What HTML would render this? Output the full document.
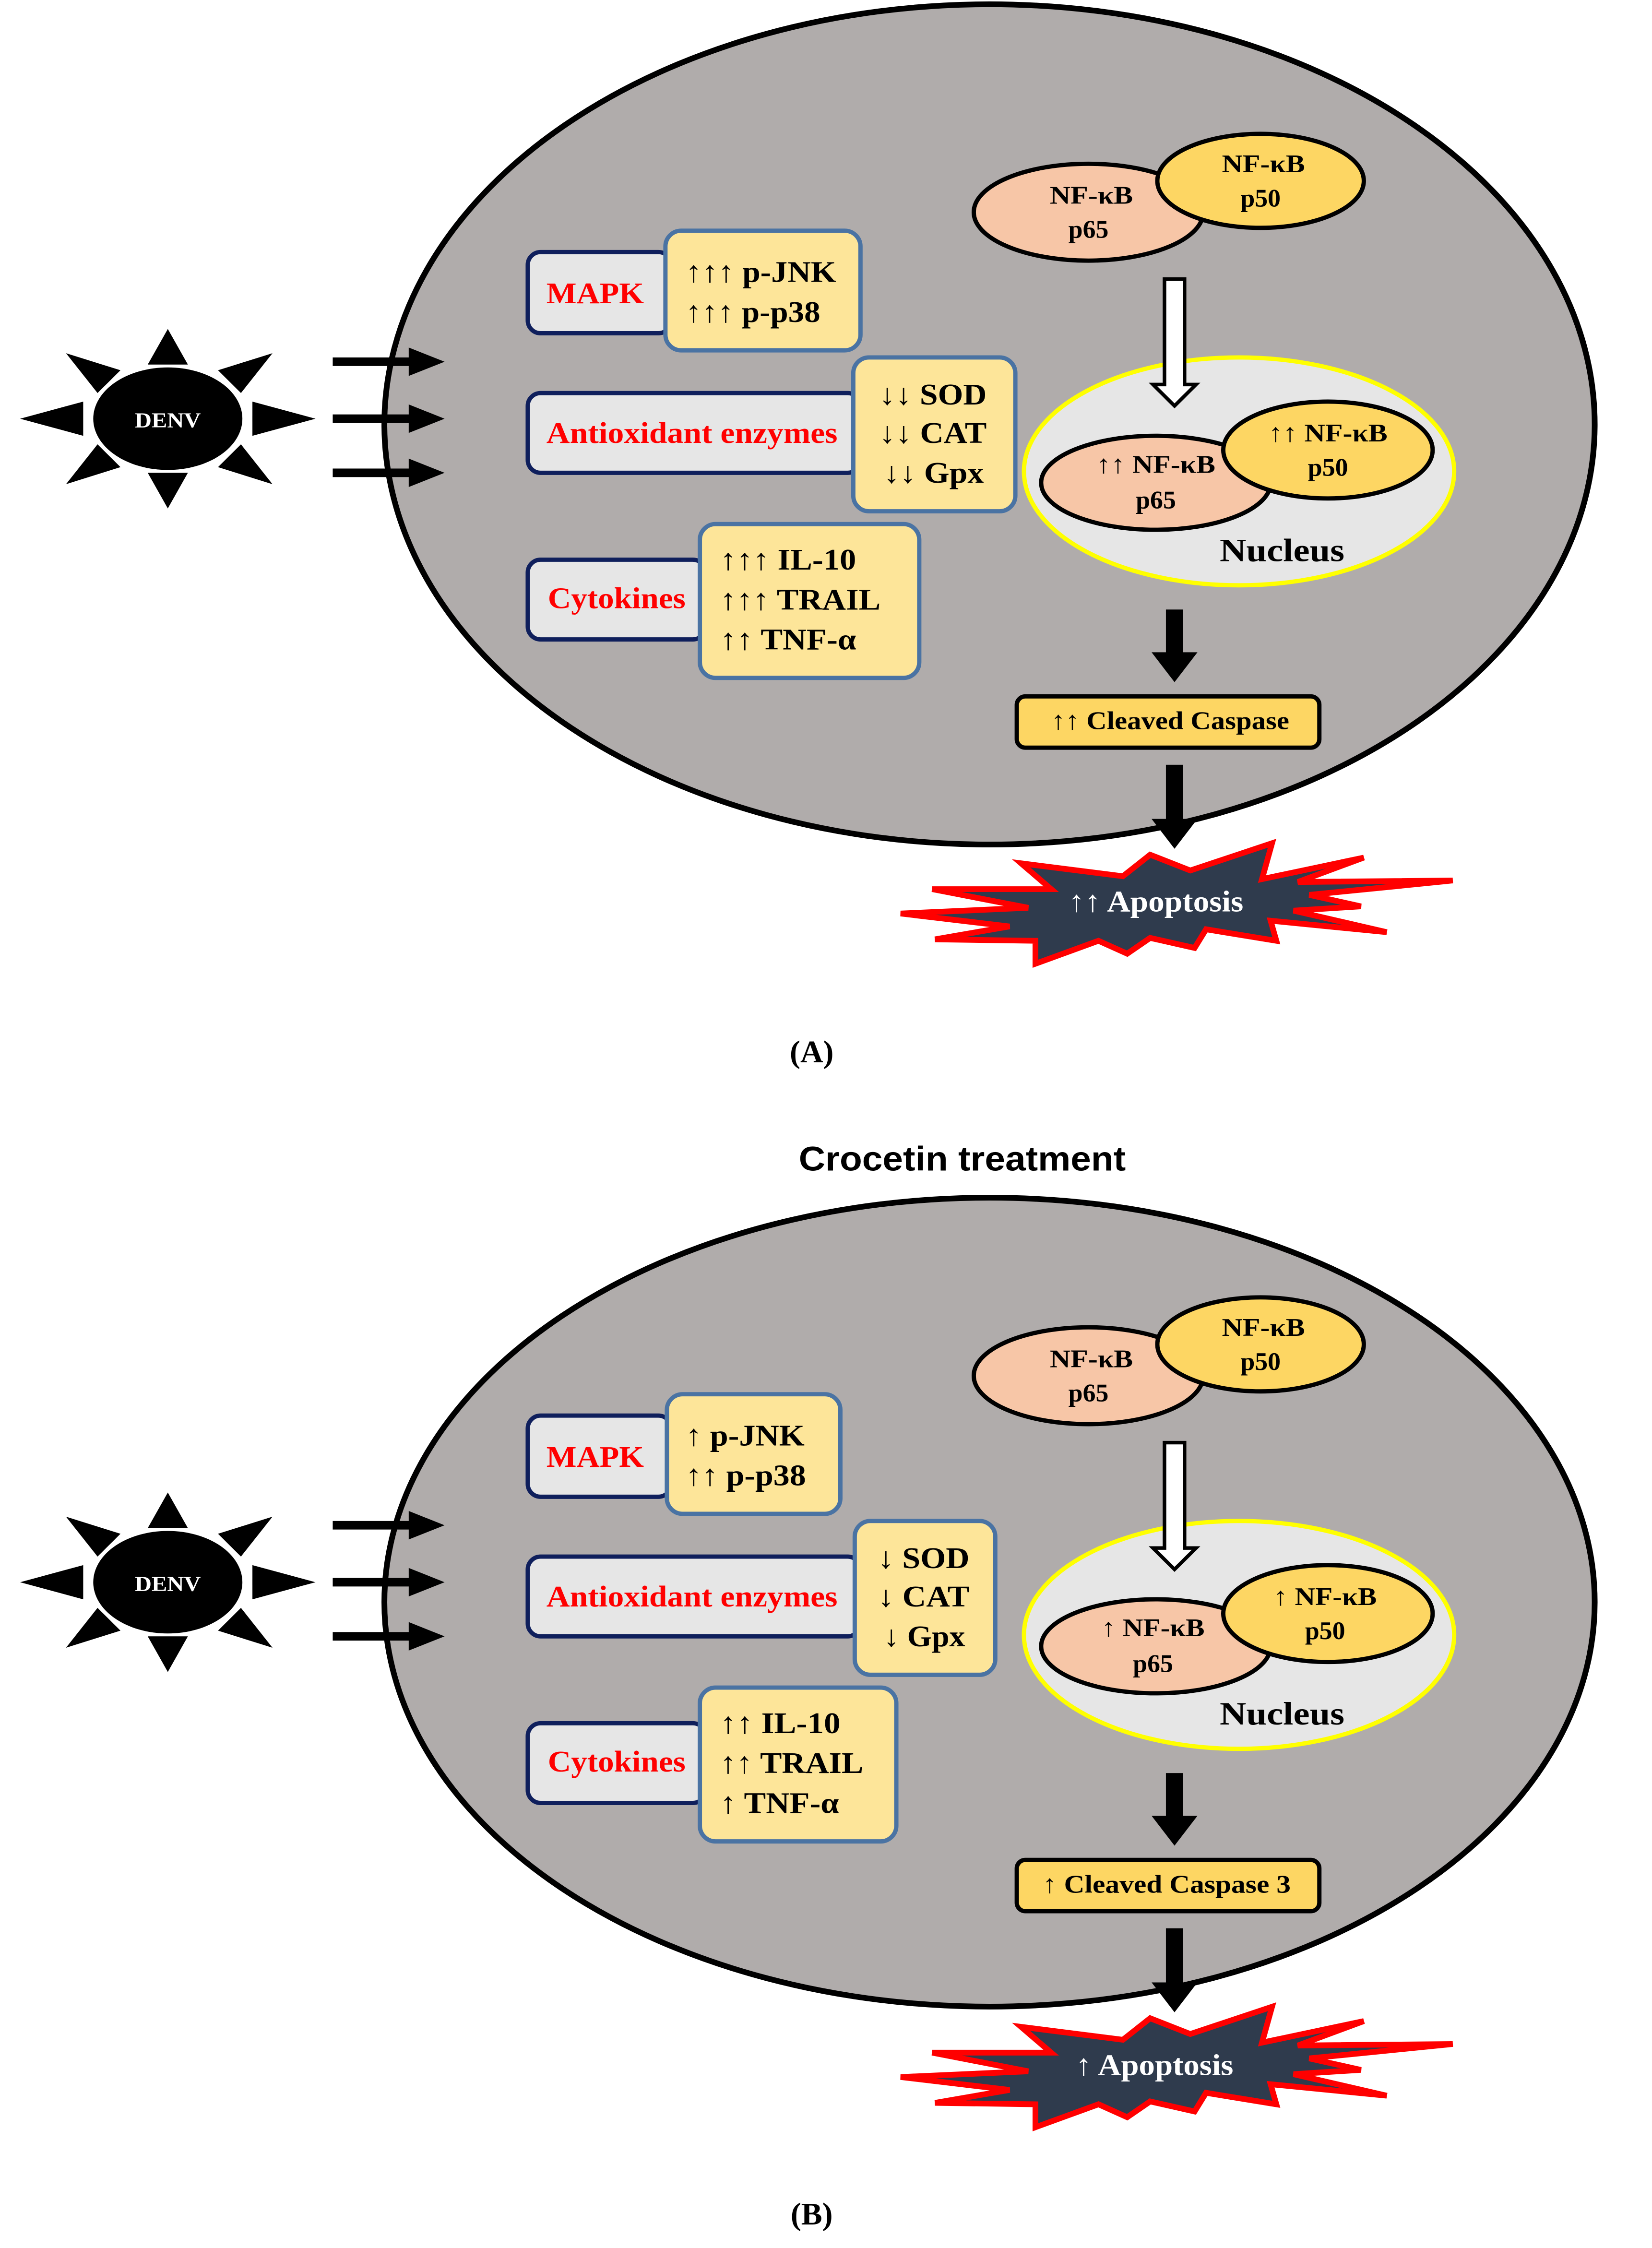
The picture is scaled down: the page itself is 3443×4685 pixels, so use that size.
<!DOCTYPE html>
<html><head><meta charset="utf-8"><style>
html,body{margin:0;padding:0;background:#fff}
svg{display:block}
text{font-family:"Liberation Serif","DejaVu Serif",serif;font-weight:bold}
</style></head><body>
<svg width="3443" height="4685" viewBox="0 0 1160 1578.5" xmlns="http://www.w3.org/2000/svg">
<defs>
<g id="denv">
  <ellipse cx="117" cy="294" rx="52" ry="36" fill="#000"/>
  <polygon points="117,231 103,256 131,256" fill="#000"/>
  <polygon points="117,357 103,332 131,332" fill="#000"/>
  <polygon points="14,294 58,282 58,306" fill="#000"/>
  <polygon points="220,294 176,282 176,306" fill="#000"/>
  <polygon points="46,248 84,260 68,276" fill="#000"/>
  <polygon points="190,248 152,260 168,276" fill="#000"/>
  <polygon points="46,340 84,328 68,312" fill="#000"/>
  <polygon points="190,340 152,328 168,312" fill="#000"/>
  <text x="117" y="300" font-size="15" fill="#fff" text-anchor="middle" textLength="46" lengthAdjust="spacingAndGlyphs">DENV</text>
  <g fill="#000">
    <rect x="232" y="251" width="55" height="6"/><polygon points="285,244 310,254 285,264"/>
    <rect x="232" y="291" width="55" height="6"/><polygon points="285,284 310,294 285,304"/>
    <rect x="232" y="329" width="55" height="6"/><polygon points="285,322 310,332 285,342"/>
  </g>
</g>
<polygon id="star" transform="matrix(1 0 0 1.007 0 0)" points="628,637 717,633 650,620 733,620 712,602 783,611 802,596 830,607 887,588 880,613 951,598 905,615 1013,614 913,624 949,632 902,635 967,650 886,642 890,656 841,648 833,661 802,654 786,665 766,656 722,672 722,656 652,655 704,646" fill="#2f3b4d" stroke="#ff0000" stroke-width="4" stroke-linejoin="miter"/>
<g id="inner">
  <use href="#denv"/>
  <ellipse cx="759" cy="149" rx="80" ry="34" fill="#f7c6a7" stroke="#000" stroke-width="3"/>
  <ellipse cx="879" cy="127" rx="72" ry="33" fill="#fdd663" stroke="#000" stroke-width="3"/>
  <text x="761" y="143" font-size="18" text-anchor="middle" textLength="58" lengthAdjust="spacingAndGlyphs">NF-κB</text>
  <text x="759" y="167" font-size="18" text-anchor="middle">p65</text>
  <text x="881" y="121" font-size="18" text-anchor="middle" textLength="58" lengthAdjust="spacingAndGlyphs">NF-κB</text>
  <text x="879" y="145" font-size="18" text-anchor="middle">p50</text>
  <ellipse cx="864" cy="331" rx="150" ry="80" fill="#e6e6e6" stroke="#ffff00" stroke-width="3"/>
  <polygon points="812,196 826,196 826,270 834,270 819,285 804,270 812,270" fill="#fff" stroke="#000" stroke-width="2.5"/>
  <ellipse cx="806" cy="339" rx="80" ry="33" fill="#f7c6a7" stroke="#000" stroke-width="3"/>
  <ellipse cx="926" cy="316" rx="73" ry="34" fill="#fdd663" stroke="#000" stroke-width="3"/>
  <text x="894" y="394" font-size="23" text-anchor="middle" textLength="87" lengthAdjust="spacingAndGlyphs">Nucleus</text>
  <g fill="#000">
    <rect x="813" y="428" width="12" height="31"/><polygon points="803,458 835,458 819,479"/>
    <rect x="813" y="537" width="12" height="39"/><polygon points="803,575 835,575 819,596"/>
  </g>
  <rect x="709" y="489" width="211" height="36" rx="6" fill="#fdd663" stroke="#000" stroke-width="3"/>
  <use href="#star"/>
  <rect x="368" y="177" width="100" height="57" rx="9" fill="#e6e6e6" stroke="#0f1f5c" stroke-width="3"/>
  <text x="381" y="213" font-size="21" fill="#ff0000" textLength="68" lengthAdjust="spacingAndGlyphs">MAPK</text>
  <rect x="368" y="276" width="232" height="56" rx="9" fill="#e6e6e6" stroke="#0f1f5c" stroke-width="3"/>
  <text x="381" y="311" font-size="21" fill="#ff0000" textLength="203" lengthAdjust="spacingAndGlyphs">Antioxidant enzymes</text>
  <rect x="368" y="393" width="124" height="56" rx="9" fill="#e6e6e6" stroke="#0f1f5c" stroke-width="3"/>
  <text x="382" y="427" font-size="21" fill="#ff0000" textLength="96" lengthAdjust="spacingAndGlyphs">Cytokines</text>
</g>
</defs>
<g transform="matrix(1.007 0 0 1 0 0)">
<!-- Panel A -->
<ellipse cx="690" cy="298" rx="422" ry="295" fill="#b0acab" stroke="#000" stroke-width="4"/>
<use href="#inner"/>
<rect x="464" y="162" width="136" height="84" rx="11" fill="#fde599" stroke="#4a73a3" stroke-width="3"/>
<text x="478" y="198" font-size="21" textLength="105" lengthAdjust="spacingAndGlyphs">↑↑↑ p-JNK</text>
<text x="478" y="226" font-size="21" textLength="94" lengthAdjust="spacingAndGlyphs">↑↑↑ p-p38</text>
<rect x="595" y="251" width="113" height="108" rx="11" fill="#fde599" stroke="#4a73a3" stroke-width="3"/>
<text x="613" y="284" font-size="21" textLength="75" lengthAdjust="spacingAndGlyphs">↓↓ SOD</text>
<text x="613" y="311" font-size="21" textLength="75" lengthAdjust="spacingAndGlyphs">↓↓ CAT</text>
<text x="616" y="339" font-size="21" textLength="70" lengthAdjust="spacingAndGlyphs">↓↓ Gpx</text>
<rect x="488" y="368" width="153" height="108" rx="11" fill="#fde599" stroke="#4a73a3" stroke-width="3"/>
<text x="502" y="400" font-size="21" textLength="95" lengthAdjust="spacingAndGlyphs">↑↑↑ IL-10</text>
<text x="502" y="428" font-size="21" textLength="112" lengthAdjust="spacingAndGlyphs">↑↑↑ TRAIL</text>
<text x="502" y="456" font-size="21" textLength="95" lengthAdjust="spacingAndGlyphs">↑↑ TNF-α</text>
<text x="806" y="332" font-size="18" text-anchor="middle" textLength="83" lengthAdjust="spacingAndGlyphs">↑↑ NF-κB</text>
<text x="806" y="357" font-size="18" text-anchor="middle">p65</text>
<text x="926" y="310" font-size="18" text-anchor="middle" textLength="83" lengthAdjust="spacingAndGlyphs">↑↑ NF-κB</text>
<text x="926" y="334" font-size="18" text-anchor="middle">p50</text>
<text x="733" y="512" font-size="18" textLength="166" lengthAdjust="spacingAndGlyphs">↑↑ Cleaved Caspase</text>
<text x="806" y="640" font-size="21" fill="#fff" text-anchor="middle" textLength="122" lengthAdjust="spacingAndGlyphs">↑↑ Apoptosis</text>
<text x="566" y="746" font-size="22" text-anchor="middle" font-weight="normal">(<tspan font-weight="bold">A</tspan>)</text>

<!-- Panel B -->
<text x="671" y="822" font-size="24" text-anchor="middle" style="font-family:'Liberation Sans','DejaVu Sans',sans-serif" textLength="228" lengthAdjust="spacingAndGlyphs">Crocetin treatment</text>
<g transform="translate(0,817)">
<ellipse cx="690" cy="308" rx="422" ry="284" fill="#b0acab" stroke="#000" stroke-width="4"/>
<use href="#inner"/>
<rect x="465" y="162" width="121" height="84" rx="11" fill="#fde599" stroke="#4a73a3" stroke-width="3"/>
<text x="478" y="198" font-size="21" textLength="83" lengthAdjust="spacingAndGlyphs">↑ p-JNK</text>
<text x="478" y="226" font-size="21" textLength="84" lengthAdjust="spacingAndGlyphs">↑↑ p-p38</text>
<rect x="596" y="251" width="98" height="108" rx="11" fill="#fde599" stroke="#4a73a3" stroke-width="3"/>
<text x="612" y="284" font-size="21" textLength="64" lengthAdjust="spacingAndGlyphs">↓ SOD</text>
<text x="612" y="311" font-size="21" textLength="64" lengthAdjust="spacingAndGlyphs">↓ CAT</text>
<text x="616" y="339" font-size="21" textLength="57" lengthAdjust="spacingAndGlyphs">↓ Gpx</text>
<rect x="488" y="368" width="137" height="108" rx="11" fill="#fde599" stroke="#4a73a3" stroke-width="3"/>
<text x="502" y="400" font-size="21" textLength="84" lengthAdjust="spacingAndGlyphs">↑↑ IL-10</text>
<text x="502" y="428" font-size="21" textLength="100" lengthAdjust="spacingAndGlyphs">↑↑ TRAIL</text>
<text x="502" y="456" font-size="21" textLength="83" lengthAdjust="spacingAndGlyphs">↑ TNF-α</text>
<text x="804" y="332" font-size="18" text-anchor="middle" textLength="72" lengthAdjust="spacingAndGlyphs">↑ NF-κB</text>
<text x="804" y="357" font-size="18" text-anchor="middle">p65</text>
<text x="924" y="310" font-size="18" text-anchor="middle" textLength="72" lengthAdjust="spacingAndGlyphs">↑ NF-κB</text>
<text x="924" y="334" font-size="18" text-anchor="middle">p50</text>
<text x="727" y="512" font-size="18" textLength="173" lengthAdjust="spacingAndGlyphs">↑ Cleaved Caspase 3</text>
<text x="805" y="640" font-size="21" fill="#fff" text-anchor="middle" textLength="110" lengthAdjust="spacingAndGlyphs">↑ Apoptosis</text>
<text x="566" y="745" font-size="22" text-anchor="middle" font-weight="normal">(<tspan font-weight="bold">B</tspan>)</text>
</g>
</g>
</svg>
</body></html>
